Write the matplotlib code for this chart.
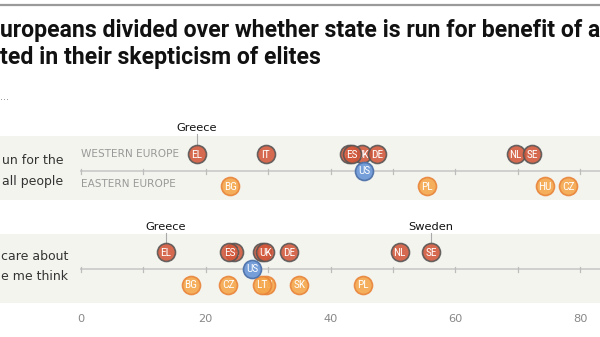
import matplotlib
matplotlib.use("Agg")
import matplotlib.pyplot as plt
from matplotlib import font_manager

# Share who agree with each statement, by country (%), listed in drawing order
west_codes_1 = ["EL", "IT", "UK", "FR", "ES", "DE", "NL", "SE"]
west_vals_1 = [18.6, 29.6, 45.1, 43.0, 43.5, 47.5, 69.7, 72.3]
east_codes_1 = ["BG", "PL", "HU", "CZ"]
east_vals_1 = [23.9, 55.4, 74.4, 78.1]
us_val_1 = 45.4

west_codes_2 = ["EL", "FR", "ES", "IT", "UK", "DE", "NL", "SE"]
west_vals_2 = [13.6, 24.5, 23.8, 29.0, 29.5, 33.4, 51.1, 56.1]
east_codes_2 = ["BG", "CZ", "HU", "LT", "SK", "PL"]
east_vals_2 = [17.6, 23.6, 29.7, 29.0, 35.0, 45.2]
us_val_2 = 27.4

tick_vals = [0, 20, 40, 60, 80]

# pick a condensed face if one is installed
names = {f.name for f in font_manager.fontManager.ttflist}
narrow = "DejaVu Sans"
for cand in ["Liberation Sans Narrow", "Roboto Condensed", "Open Sans Condensed"]:
    if cand in names:
        narrow = cand
        break
FAM = [narrow, "DejaVu Sans"]
HEAD = ["Roboto", "Liberation Sans", "DejaVu Sans"]

W, H = 600, 337
PX = 6.2375   # pixels per percentage point
X0 = 81       # pixel position of 0

fig = plt.figure(figsize=(W / 100, H / 100), dpi=100)
ax = fig.add_axes([0, 0, 1, 1])
ax.set_xlim(-X0 / PX, (W - X0) / PX)
ax.set_ylim(H, 0)
ax.axis("off")
renderer = fig.canvas.get_renderer()


def px(x):
    return (x - X0) / PX


def fit_width(t, target):
    # rescale a text so it spans the given width in pixels
    w = t.get_window_extent(renderer).width
    t.set_fontsize(t.get_fontsize() * target / w)


# top rule
ax.plot([px(0), px(W)], [4.5, 4.5], color="#9a9a9a", lw=1.6, solid_capstyle="butt")

# title and subtitle
t1 = ax.text(px(0), 37, "uropeans divided over whether state is run for benefit of a",
             family=HEAD, weight="bold", fontsize=12,
             color="#111111", va="baseline", ha="left")
fit_width(t1, 597)
t2 = ax.text(px(0), 64, "ted in their skepticism of elites",
             family=HEAD, weight="bold", fontsize=t1.get_fontsize(),
             color="#111111", va="baseline", ha="left")
ax.text(px(0), 97, "...", fontsize=7, color="#888888", va="center", ha="left")

MS = 168
z = [3]


def marker(v, y, code, face, edge, alpha):
    z[0] += 1
    ax.scatter([v], [y], s=MS, color=face, alpha=alpha, edgecolors=edge,
               linewidths=1.2, zorder=z[0])
    z[0] += 1
    ax.text(v, y + 0.5, code, family=FAM, fontsize=8.2,
            color="white", ha="center", va="center", zorder=z[0])


def panel(top, bottom, y_axis, y_west, y_east, lab1, lab2, lab_x, lab_y,
          wc, wv, ec, ev, us, show_region):
    ax.fill_between([px(0), px(W)], top, bottom, color="#f4f4ef", lw=0, zorder=0)
    ax.plot([0, px(W)], [y_axis, y_axis], color="#cfcfcf", lw=1.4, zorder=1)
    for t in range(0, 100, 10):
        ax.plot([t, t], [y_axis - 2.5, y_axis + 2.5], color="#bdbdbd", lw=0.9, zorder=1)
    ax.text(px(lab_x), lab_y[0], lab1, fontsize=9.0, color="#333333", ha="right", va="center")
    ax.text(px(lab_x), lab_y[1], lab2, fontsize=9.0, color="#333333", ha="right", va="center")
    if show_region:
        ax.text(0, y_west, "WESTERN EUROPE", fontsize=7.6,
                color="#999999", ha="left", va="center")
        ax.text(0, y_east - 2, "EASTERN EUROPE", fontsize=7.6,
                color="#999999", ha="left", va="center")

    for c, v in zip(wc, wv):
        marker(v, y_west, c, "#d2573a", "#555555", 0.88)
    for c, v in zip(ec, ev):
        marker(v, y_east, c, "#f5a74c", "#e8843a", 0.9)
    marker(us, y_axis, "US", "#6f9ad8", "#4f72a8", 0.95)


panel(136, 200, 171, 154, 186, "un for the", "all people", 63, (161, 182),
      west_codes_1, west_vals_1, east_codes_1, east_vals_1, us_val_1, True)
panel(234, 303, 269, 252, 285, "care about", "e me think", 68, (257, 277),
      west_codes_2, west_vals_2, east_codes_2, east_vals_2, us_val_2, False)


def callout(name, v, y_text, y_mark):
    ax.text(v, y_text, name, fontsize=8.2, color="#111111", ha="center", va="center")
    ax.plot([v, v], [y_text + 6, y_mark - 9], color="#aaaaaa", lw=0.8, zorder=2)


callout("Greece", west_vals_1[0], 128, 154)
callout("Greece", west_vals_2[0], 227, 252)
callout("Sweden", west_vals_2[-1], 227, 252)

for t in tick_vals:
    ax.text(t, 319, str(t), fontsize=8.2, color="#888888", ha="center", va="center")

fig.savefig("out.png", dpi=100)
